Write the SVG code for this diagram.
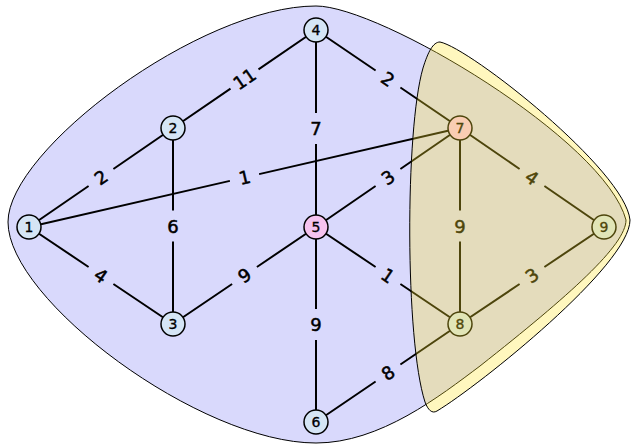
<svg xmlns="http://www.w3.org/2000/svg" width="631" height="445" viewBox="0 0 631 445">
<style>
.blob{fill:#d9d9fc;stroke:#000;stroke-width:1}
.lens{fill:rgb(255,230,40);fill-opacity:0.3;stroke:#000;stroke-width:1}
.e{stroke:#000;stroke-width:2;fill:none}
.n circle{fill:#d5e5f5;stroke:#000;stroke-width:1.5}
.n text{font-family:"DejaVu Sans",sans-serif;font-size:14px;text-anchor:middle;fill:#000;stroke:#000;stroke-width:0.35}
.w{font-family:"DejaVu Sans",sans-serif;font-size:18px;text-anchor:middle;fill:#000;stroke:#000;stroke-width:0.5}
</style>
<path id="region-blue" class="blob" d="M8,222 C8,150 200,6 316,6 C380,6 605,140 626,220 C626,245 570,295 480,366 C440,396 380,443 316,443 C200,443 8,300 8,222 Z"/>
<g id="connectors">
<path class="e" d="M29,227L88.6,186M113.4,169L173,128"/>
<path class="e" d="M173,128L230.5,88.6M258.5,69.4L316,30"/>
<path class="e" d="M29,227L229.9,180.9M259.1,174.1L460,128"/>
<path class="e" d="M316,30L316,113M316,144L316,227"/>
<path class="e" d="M173,128L173,210.5M173,241.5L173,324"/>
<path class="e" d="M29,227L88.6,267M113.4,284L173,324"/>
<path class="e" d="M173,324L232.1,284M256.9,267L316,227"/>
<path class="e" d="M316,227L375.6,186M400.4,169L460,128"/>
<path class="e" d="M316,30L375.6,70.5M400.4,87.5L460,128"/>
<path class="e" d="M460,128L460,210.5M460,241.5L460,324"/>
<path class="e" d="M460,128L519.6,169M544.4,186L604,227"/>
<path class="e" d="M316,227L375.6,267M400.4,284L460,324"/>
<path class="e" d="M460,324L519.6,284M544.4,267L604,227"/>
<path class="e" d="M316,227L316,309M316,340L316,422"/>
<path class="e" d="M316,422L375.6,381.5M400.4,364.5L460,324"/>
<text class="w" transform="translate(101,177.5) rotate(-34.4)" y="6.5">2</text>
<text class="w" transform="translate(244.5,79) rotate(-34.4)" y="6.5">11</text>
<text class="w" transform="translate(244.5,177.5) rotate(-12.9)" y="6.5">1</text>
<text class="w" x="316" y="135">7</text>
<text class="w" x="173" y="232.5">6</text>
<text class="w" transform="translate(101,275.5) rotate(34.4)" y="6.5">4</text>
<text class="w" transform="translate(244.5,275.5) rotate(-34.4)" y="6.5">9</text>
<text class="w" transform="translate(388,177.5) rotate(-34.4)" y="6.5">3</text>
<text class="w" transform="translate(388,79) rotate(34.4)" y="6.5">2</text>
<text class="w" x="460" y="232.5">9</text>
<text class="w" transform="translate(532,177.5) rotate(34.4)" y="6.5">4</text>
<text class="w" transform="translate(388,275.5) rotate(34.4)" y="6.5">1</text>
<text class="w" transform="translate(532,275.5) rotate(-34.4)" y="6.5">3</text>
<text class="w" x="316" y="331">9</text>
<text class="w" transform="translate(388,373) rotate(-34.4)" y="6.5">8</text>
</g>
<g id="node1" class="n"><circle cx="29" cy="227" r="12"/><text x="29" y="232">1</text></g>
<g id="node2" class="n"><circle cx="173" cy="128" r="12"/><text x="173" y="133">2</text></g>
<g id="node3" class="n"><circle cx="173" cy="324" r="12"/><text x="173" y="329">3</text></g>
<g id="node4" class="n"><circle cx="316" cy="30" r="12"/><text x="316" y="35">4</text></g>
<g id="node5" class="n"><circle cx="316" cy="227" r="12" style="fill:#f6c3ef"/><text x="316" y="232">5</text></g>
<g id="node6" class="n"><circle cx="316" cy="422" r="12"/><text x="316" y="427">6</text></g>
<g id="node7" class="n"><circle cx="460" cy="128" r="12" style="fill:#f6c3ef"/><text x="460" y="133">7</text></g>
<g id="node8" class="n"><circle cx="460" cy="324" r="12"/><text x="460" y="329">8</text></g>
<g id="node9" class="n"><circle cx="604" cy="227" r="12"/><text x="604" y="232">9</text></g>
<path id="region-yellow" class="lens" d="M440,42 C470,48 625,170 630,220 C630,265 480,385 437,411 C432,414 428,410 425,402 C405,340 405,130 423,68 C428,52 433,42 440,42 Z"/>
</svg>
